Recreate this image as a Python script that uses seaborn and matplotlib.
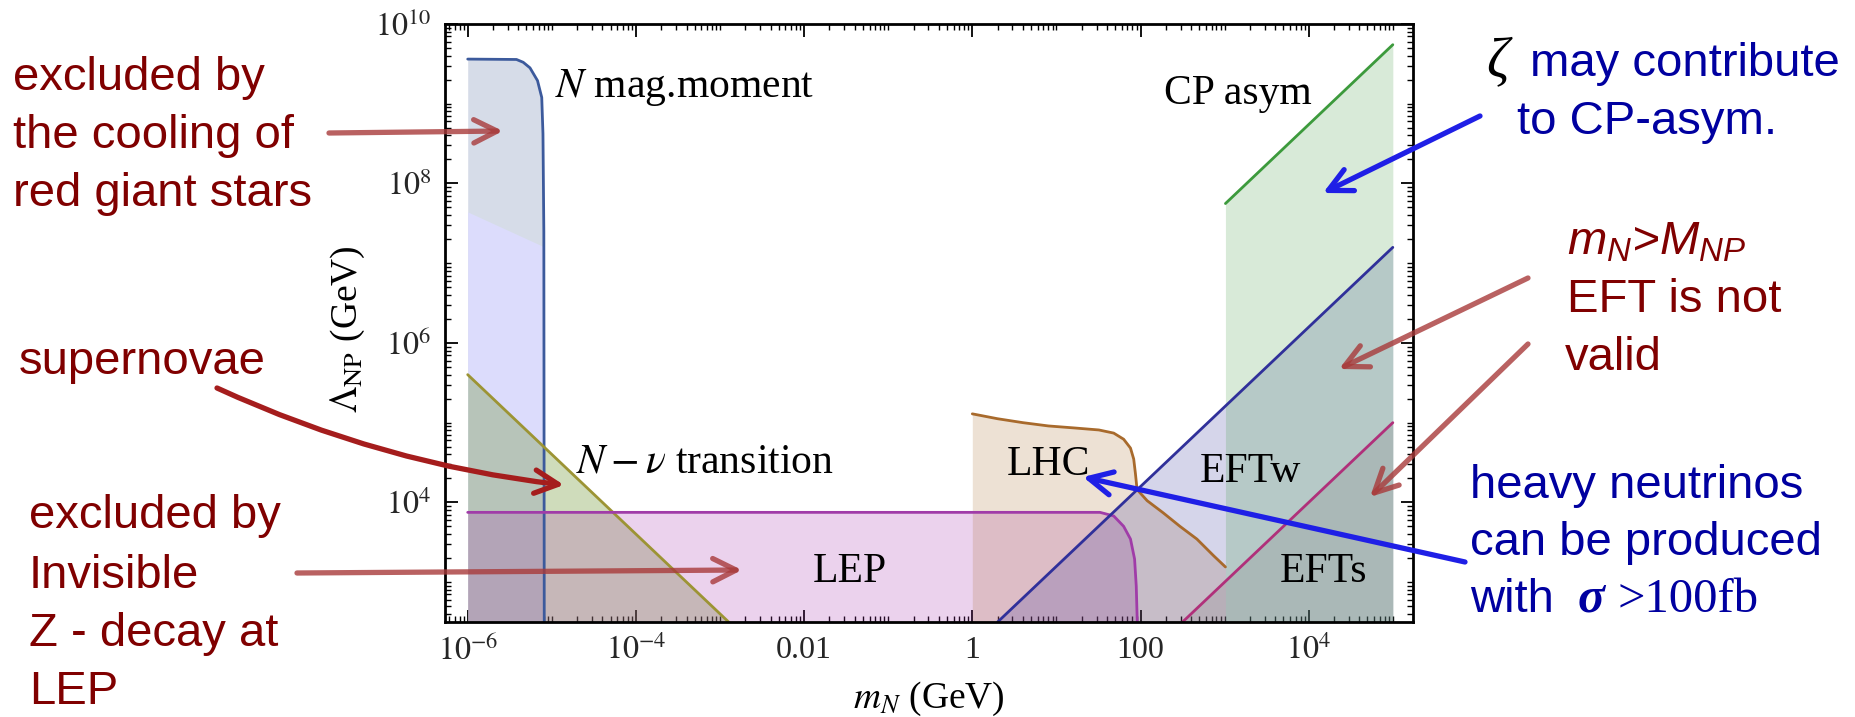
import numpy as np
import matplotlib
matplotlib.use("Agg")
import matplotlib.pyplot as plt
from matplotlib.ticker import FixedLocator, LogLocator, NullFormatter
from matplotlib.patches import FancyArrowPatch
import seaborn as sns

# boundaries: m_N (GeV) vs Lambda_NP (GeV)
mag_m = [1e-6, 3.8e-6, 4.57e-6, 5.5e-6, 6.76e-6, 7.59e-6, 7.85e-6, 8.04e-6, 8.13e-6]
mag_lam = [3.63e9, 3.59e9, 3.31e9, 2.82e9, 1.95e9, 1.2e9, 4.2e8, 2.5e7, 316]

sn_m = [1e-6, 8.13e-6]
sn_lam = [4.4e7, 1.6e7]

nnu_m = [1e-6, 1.3e-3]
nnu_lam = [4.0e5, 308]

lep_m = [1e-6, 33, 48, 63, 76, 85, 89, 91.5]
lep_lam = [7500, 7500, 6760, 5010, 3470, 1950, 890, 316]

lhc_m = [1, 2, 4, 8, 16, 32, 48, 63, 76, 83, 87, 91, 120, 186, 295, 468, 741, 1023]
lhc_lam = [1.29e5, 1.12e5, 1.0e5, 9.1e4, 8.6e4, 8.1e4, 7.4e4, 6.2e4, 4.8e4,
           3.5e4, 2.3e4, 1.45e4, 1.05e4, 7400, 5000, 3470, 2140, 1550]

eftw_m = [2.0, 1e5]
eftw_lam = [316, 1.58e7]

efts_m = [316, 1e5]
efts_lam = [316, 1e5]

cp_m = [1023, 1e5]
cp_lam = [5.6e7, 5.5e9]

x_ticks = [1e-6, 1e-4, 1e-2, 1, 1e2, 1e4]
x_tick_labels = [r"$10^{-6}$", r"$10^{-4}$", "0.01", "1", "100", r"$10^{4}$"]
y_ticks = [1e4, 1e6, 1e8, 1e10]
y_tick_labels = [r"$10^{4}$", r"$10^{6}$", r"$10^{8}$", r"$10^{10}$"]

LAM_MIN = 10 ** 2.5
W, H = 1856, 717

sns.set_theme(style="ticks")
plt.rcParams["font.family"] = ["Liberation Serif", "DejaVu Serif"]
plt.rcParams["mathtext.fontset"] = "stix"
plt.rcParams["mathtext.rm"] = "Liberation Sans"
plt.rcParams["mathtext.it"] = "Liberation Sans:italic"
plt.rcParams["text.color"] = "black"
plt.rcParams["axes.labelcolor"] = "black"


def fp(x, y):
    # image pixel (y down) -> figure fraction
    return x / W, 1 - y / H


fig = plt.figure(figsize=(W / 100, H / 100), dpi=100)
ax = fig.add_axes([445 / W, (H - 622) / H, 968 / W, 598 / H])
ax.set_xscale("log")
ax.set_yscale("log")
ax.set_xlim(10 ** -6.27, 10 ** 5.24)
ax.set_ylim(LAM_MIN, 1e10)

# filled regions
ax.fill_between(mag_m, mag_lam, LAM_MIN, color="#32508c", alpha=0.2, lw=0)
ax.fill_between(sn_m, sn_lam, LAM_MIN, color="#dcdcfc", alpha=1.0, lw=0)
ax.fill_between(nnu_m, nnu_lam, LAM_MIN, color="#6e9632", alpha=0.33, lw=0)
ax.fill_between(lep_m, lep_lam, LAM_MIN, color="#a834b0", alpha=0.22, lw=0)
ax.fill_between(lhc_m, lhc_lam, LAM_MIN, color="#a86a2c", alpha=0.2, lw=0)
ax.fill_between(eftw_m, eftw_lam, LAM_MIN, color="#30309a", alpha=0.2, lw=0)
ax.fill_between(cp_m, cp_lam, LAM_MIN, color="#3c9a3c", alpha=0.2, lw=0)
ax.fill_between(efts_m, efts_lam, LAM_MIN, color="#808080", alpha=0.22, lw=0)

# boundary lines
lines = [
    (mag_m, mag_lam, "#3c5a9c"),
    (nnu_m, nnu_lam, "#9c9434"),
    (lep_m, lep_lam, "#a03ca8"),
    (lhc_m, lhc_lam, "#a86a2c"),
    (eftw_m, eftw_lam, "#30309a"),
    (efts_m, efts_lam, "#b0307a"),
    (cp_m, cp_lam, "#3c9a3c"),
]
for m, lam, c in lines:
    sns.lineplot(x=m, y=lam, ax=ax, color=c, lw=2.0, sort=False,
                 estimator=None, legend=False)

# axes cosmetics
ax.xaxis.set_major_locator(FixedLocator(x_ticks))
ax.set_xticklabels(x_tick_labels)
ax.yaxis.set_major_locator(FixedLocator(y_ticks))
ax.set_yticklabels(y_tick_labels)
for axis in (ax.xaxis, ax.yaxis):
    axis.set_minor_locator(LogLocator(base=10, subs=np.arange(1, 10), numticks=200))
    axis.set_minor_formatter(NullFormatter())
ax.tick_params(which="both", direction="in", top=True, right=True, color="black")
ax.tick_params(which="major", length=9, width=1.3, labelsize=23, pad=10)
ax.tick_params(which="minor", length=4.5, width=1.0)
for s in ax.spines.values():
    s.set_linewidth(2)
    s.set_color("black")

ax.set_xlabel(r"$m_N$ (GeV)", fontsize=27)
ax.set_ylabel(r"$\Lambda_{\mathrm{NP}}$ (GeV)", fontsize=27)
ax.xaxis.set_label_coords(0.50, -0.097)
ax.yaxis.set_label_coords(-0.081, 0.49)
for lab in (ax.xaxis.label, ax.yaxis.label):
    lab.set_math_fontfamily("stix")
for lab in ax.get_xticklabels() + ax.get_yticklabels():
    lab.set_math_fontfamily("stix")

# region labels
rl = dict(fontsize=30, color="black", va="baseline", math_fontfamily="stix")
ax.text(1.1e-5, 1.23e9, r"$N$ mag.moment", ha="left", **rl)
ax.text(1450, 1.0e9, "CP asym", ha="center", **rl)
ax.text(1.95e-5, 2.4e4, r"$N-\nu$ transition", ha="left", **rl)
ax.text(0.035, 1000, "LEP", ha="center", **rl)
ax.text(8, 2.2e4, "LHC", ha="center", **rl)
ax.text(2040, 1.8e4, "EFTw", ha="center", **rl)
ax.text(1.5e4, 1000, "EFTs", ha="center", **rl)

# side annotations
red = "#800000"
blue = "#0000a0"
sans = ["Liberation Sans", "DejaVu Sans"]
left_lines = [
    ("excluded by", 13, 90), ("the cooling of", 13, 148), ("red giant stars", 13, 206),
    ("supernovae", 19, 374),
    ("excluded by", 29, 528), ("Invisible", 29, 588), ("Z - decay at", 29, 646), ("LEP", 29, 704),
]
for s, x, y in left_lines:
    fig.text(*fp(x, y), s, family=sans, fontsize=34, color=red, ha="left", va="baseline")

fig.text(*fp(1486, 76), "ζ", family=["Liberation Serif"], style="italic",
         fontsize=40, color="black", ha="left", va="baseline")
right_lines = [
    ("may contribute", 1530, 76, blue), ("to CP-asym.", 1517, 134, blue),
    ("EFT is not", 1567, 312, red), ("valid", 1565, 370, red),
    ("heavy neutrinos", 1470, 498, blue), ("can be produced", 1470, 555, blue),
    ("with", 1470, 612, blue),
]
for s, x, y, c in right_lines:
    fig.text(*fp(x, y), s, family=sans, fontsize=34, color=c, ha="left", va="baseline")
fig.text(*fp(1567, 255), r"$m_N$>$M_{NP}$", family=sans, style="italic", fontsize=34,
         color=red, ha="left", va="baseline", math_fontfamily="custom")
fig.text(*fp(1578, 612), "σ", family=["Liberation Serif"], style="italic", weight="bold",
         fontsize=36, color=blue, ha="left", va="baseline")
fig.text(*fp(1618, 612), ">100fb", family=["Liberation Serif"], fontsize=35,
         color=blue, ha="left", va="baseline")

# arrows
arrows = [
    ((329, 133), (503, 131), "#a83a3a", 0.8, "arc3,rad=0"),
    ((217, 388), (564, 485), "#a51d1d", 1.0, "arc3,rad=0.08"),
    ((297, 573), (742, 570), "#a83a3a", 0.8, "arc3,rad=0"),
    ((1480, 116), (1323, 193), "#1f1fe6", 1.0, "arc3,rad=0"),
    ((1528, 278), (1339, 369), "#a83a3a", 0.8, "arc3,rad=0"),
    ((1528, 344), (1370, 497), "#a83a3a", 0.8, "arc3,rad=0"),
    ((1465, 562), (1083, 477), "#1f1fe6", 1.0, "arc3,rad=0"),
]
for a, b, c, al, cs in arrows:
    fig.add_artist(FancyArrowPatch(fp(*a), fp(*b), transform=fig.transFigure,
                                   arrowstyle="->", mutation_scale=42, lw=3.8,
                                   color=c, alpha=al, connectionstyle=cs,
                                   capstyle="round", joinstyle="round",
                                   shrinkA=0, shrinkB=0))

fig.savefig("out.png", dpi=100)
